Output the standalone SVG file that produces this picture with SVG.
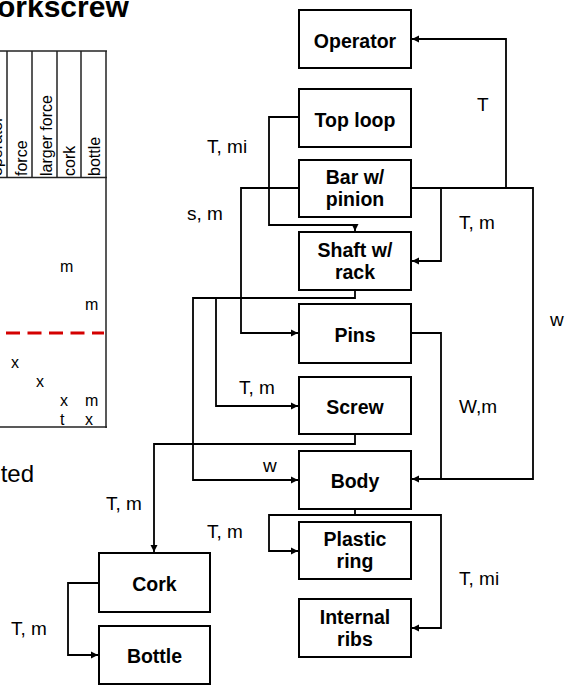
<svg xmlns="http://www.w3.org/2000/svg" width="565" height="686" viewBox="0 0 565 686">
<style>
.box{fill:#fff;stroke:#000;stroke-width:2}
.bl{font-family:"Liberation Sans",Arial,sans-serif;font-weight:bold;font-size:19.5px;text-anchor:middle;fill:#000}
.lb{font-family:"Liberation Sans",Arial,sans-serif;font-size:19px;fill:#000}
.tb{font-family:"Liberation Sans",Arial,sans-serif;font-size:16px;fill:#000}
.con{fill:none;stroke:#000;stroke-width:1.8}
.tl{stroke:#222;stroke-width:1.5;fill:none}
</style>
<defs>
<marker id="ah" markerUnits="userSpaceOnUse" markerWidth="10" markerHeight="10" viewBox="0 0 10 10" refX="9" refY="5" orient="auto">
<path d="M2,1.5 L9,5 L2,8.5 Z" fill="#000"/>
</marker>
</defs>

<g id="title">
<text x="-3" y="17" font-family="'Liberation Sans',Arial,sans-serif" font-weight="bold" font-size="30">orkscrew</text>
</g>

<g id="table">
<line class="tl" x1="0" y1="51" x2="107" y2="51"/>
<line class="tl" x1="0" y1="177.5" x2="107" y2="177.5" stroke-width="2"/>
<line class="tl" x1="7" y1="51" x2="7" y2="177"/>
<line class="tl" x1="32" y1="51" x2="32" y2="177"/>
<line class="tl" x1="57" y1="51" x2="57" y2="177"/>
<line class="tl" x1="81" y1="51" x2="81" y2="177"/>
<line class="tl" x1="106" y1="51" x2="106" y2="428"/>
<line class="tl" x1="0" y1="427" x2="107" y2="427" stroke-width="2.2"/>
<line x1="6" y1="333" x2="104" y2="333" stroke="#d40000" stroke-width="3" stroke-dasharray="14,7.5"/>
<text class="tb" transform="translate(1.5,176) rotate(-90)">operator</text>
<text class="tb" transform="translate(27,176) rotate(-90)">force</text>
<text class="tb" transform="translate(52,176) rotate(-90)">larger force</text>
<text class="tb" transform="translate(75,176) rotate(-90)">cork</text>
<text class="tb" transform="translate(100,176) rotate(-90)">bottle</text>
<text class="tb" x="60" y="272">m</text>
<text class="tb" x="85" y="310">m</text>
<text class="tb" x="11" y="368">x</text>
<text class="tb" x="36" y="387">x</text>
<text class="tb" x="60" y="406">x</text>
<text class="tb" x="85" y="406">m</text>
<text class="tb" x="60" y="425">t</text>
<text class="tb" x="85" y="425">x</text>
</g>

<g id="note">
<text x="34" y="482" text-anchor="end" font-family="'Liberation Sans',Arial,sans-serif" font-size="24">ted</text>
</g>

<g id="connectors">
<path class="con" d="M411,188 H533 V479 H441"/>
<path class="con" d="M506,188 V39 H412" marker-end="url(#ah)"/>
<path class="con" d="M441,188 V261 H412" marker-end="url(#ah)"/>
<path class="con" d="M411,333 H441 V479 H412" marker-end="url(#ah)"/>
<path class="con" d="M299,117 H269 V225 H355 V231" marker-end="url(#ah)"/>
<path class="con" d="M299,188 H241 V333 H298" marker-end="url(#ah)"/>
<path class="con" d="M355,290 V298 H193 V480 H298" marker-end="url(#ah)"/>
<path class="con" d="M216,298 V406 H298" marker-end="url(#ah)"/>
<path class="con" d="M355,434 V444 H154 V552" marker-end="url(#ah)"/>
<path class="con" d="M355,509 V515 H269 V551 H298" marker-end="url(#ah)"/>
<path class="con" d="M355,515 H441 V628 H412" marker-end="url(#ah)"/>
<path class="con" d="M99,583 H68 V655 H98" marker-end="url(#ah)"/>
</g>

<g id="labels">
<text class="lb" x="477" y="111">T</text>
<text class="lb" x="207" y="153">T, mi</text>
<text class="lb" x="187" y="220">s, m</text>
<text class="lb" x="459" y="229">T, m</text>
<text class="lb" x="550" y="326">w</text>
<text class="lb" x="239" y="394">T, m</text>
<text class="lb" x="459" y="413">W,m</text>
<text class="lb" x="263" y="472">w</text>
<text class="lb" x="106" y="510">T, m</text>
<text class="lb" x="207" y="538">T, m</text>
<text class="lb" x="459" y="585">T, mi</text>
<text class="lb" x="11" y="635">T, m</text>
</g>

<g id="operator"><rect class="box" x="299" y="10" width="112" height="58"/><text class="bl" x="355" y="47.5">Operator</text></g>
<g id="toploop"><rect class="box" x="299" y="89" width="112" height="58"/><text class="bl" x="355" y="126.5">Top loop</text></g>
<g id="bar"><rect class="box" x="299" y="160" width="112" height="57"/><text class="bl" x="355" y="184">Bar w/</text><text class="bl" x="355" y="206">pinion</text></g>
<g id="shaft"><rect class="box" x="299" y="232" width="112" height="58"/><text class="bl" x="355" y="257">Shaft w/</text><text class="bl" x="355" y="279">rack</text></g>
<g id="pins"><rect class="box" x="299" y="304" width="112" height="59"/><text class="bl" x="355" y="342">Pins</text></g>
<g id="screw"><rect class="box" x="299" y="377" width="112" height="57"/><text class="bl" x="355" y="414">Screw</text></g>
<g id="body"><rect class="box" x="299" y="451" width="112" height="58"/><text class="bl" x="355" y="488">Body</text></g>
<g id="plasticring"><rect class="box" x="299" y="522" width="112" height="57"/><text class="bl" x="355" y="546">Plastic</text><text class="bl" x="355" y="568">ring</text></g>
<g id="internalribs"><rect class="box" x="299" y="599" width="112" height="58"/><text class="bl" x="355" y="624">Internal</text><text class="bl" x="355" y="646">ribs</text></g>
<g id="cork"><rect class="box" x="99" y="553" width="111" height="59"/><text class="bl" x="154.5" y="591">Cork</text></g>
<g id="bottle"><rect class="box" x="99" y="626" width="111" height="58"/><text class="bl" x="154.5" y="663">Bottle</text></g>
</svg>
